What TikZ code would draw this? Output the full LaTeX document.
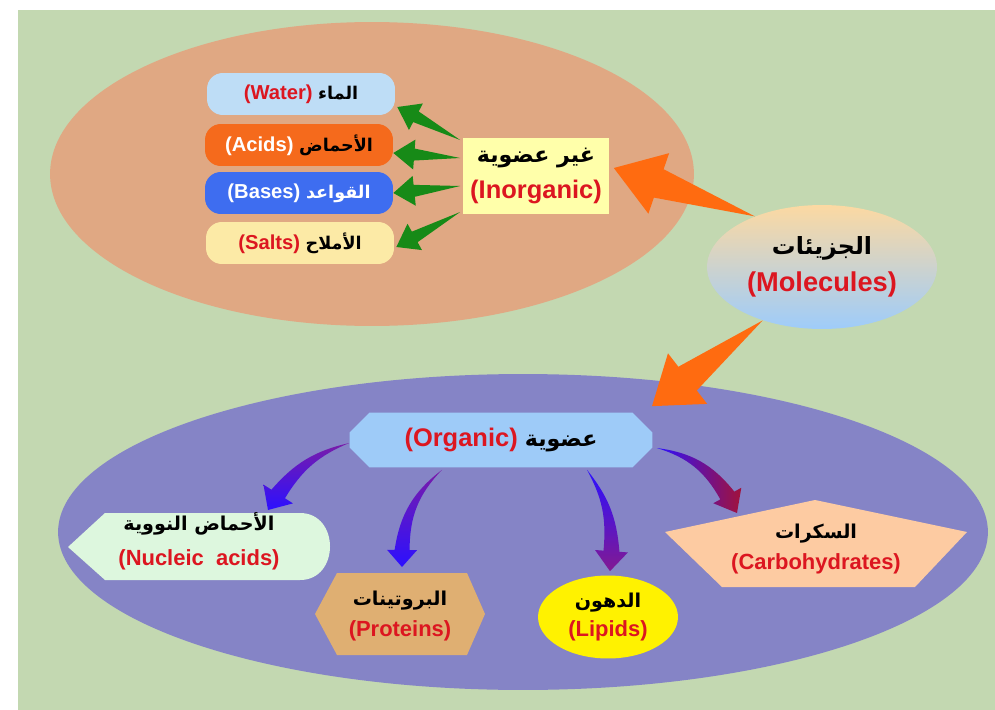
\documentclass[tikz,border=0pt]{standalone}
\usepackage{fontspec}
\setmainfont{Liberation Sans}
\newfontfamily\arabicfont[Script=Arabic,Scale=0.87]{DejaVu Sans}
\TeXXeTstate=1
\usetikzlibrary{calc,shapes.geometric,shapes.misc,positioning}

\definecolor{bggreen}{HTML}{C3D8B1}
\definecolor{inorgback}{HTML}{E0A883}
\definecolor{orgback}{HTML}{8584C6}
\definecolor{molhi}{HTML}{FCD9A2}
\definecolor{mollo}{HTML}{9ECCFA}
\definecolor{inorgfill}{HTML}{FFFFAA}
\definecolor{waterfill}{HTML}{BEDDF6}
\definecolor{acidfill}{HTML}{F56A1C}
\definecolor{basefill}{HTML}{3E6DF0}
\definecolor{saltfill}{HTML}{FCEAA6}
\definecolor{leafgreen}{HTML}{178A17}
\definecolor{bigorange}{HTML}{FF6B10}
\definecolor{orgfill}{HTML}{9ECBF8}
\definecolor{nucfill}{HTML}{DDF7DE}
\definecolor{protfill}{HTML}{DFAF72}
\definecolor{carbfill}{HTML}{FDCBA2}
\definecolor{labelred}{HTML}{DC1620}
\definecolor{arrowblue}{HTML}{2C10FF}
\definecolor{arrowpurple}{HTML}{7A1CA8}
\definecolor{arrowred}{HTML}{A2123A}

\newcommand{\arab}[1]{{\arabicfont\beginR#1\endR}}
\newcommand{\latn}[1]{{\color{labelred}#1}}

% tapered block arrow: [fill], tail, tip, bend, half shaft, half head, head length
\newcommand{\blockarrow}[7][]{%
  \pgfmathsetmacro\baang{-(#4)}
  \coordinate (ba) at ($(#3)!#7!\baang:(#2)$);
  \coordinate (bs1) at ($(ba)!#5!90:(#3)$);
  \coordinate (bs2) at ($(ba)!#5!-90:(#3)$);
  \coordinate (bh1) at ($(ba)!#6!90:(#3)$);
  \coordinate (bh2) at ($(ba)!#6!-90:(#3)$);
  \path[#1] (#2) to[bend left=#4] (bs1) -- (bh1) -- (#3) -- (bh2) -- (bs2)
    to[bend right=#4] (#2) -- cycle;
}

\tikzset{
  unit/.style={rounded corners=9pt, minimum width=3.76cm, minimum height=0.84cm,
    inner sep=0, font=\bfseries\fontsize{11.5}{14}\selectfont},
  bigtxt/.style={align=center, inner sep=0, font=\bfseries\fontsize{14.5}{20}\selectfont},
  smalltxt/.style={align=center, inner sep=0, font=\bfseries\fontsize{12.5}{#1}\selectfont},
  smalltxt/.default=18
}

\begin{document}
\begin{tikzpicture}[x=0.02cm, y=-0.02cm]
\useasboundingbox (0,0) rectangle (995,710);
% backdrop and the two groups
\fill[bggreen] (18,10) rectangle (995,710);
\fill[inorgback] (372,174) ellipse [x radius=6.44cm, y radius=3.04cm];
\fill[orgback] (523,532) ellipse [x radius=9.3cm, y radius=3.16cm];

% shapes of the organic classes
\fill[nucfill] (68,547) -- (105,513) -- (300,513) .. controls (340,513) and (340,580) .. (300,580) -- (105,580) -- cycle;
\fill[protfill] (315,614) -- (337,573) -- (467,573) -- (485,614) -- (467,655) -- (337,655) -- cycle;
\fill[carbfill] (815,500) -- (967,532) -- (915,587) -- (722,587) -- (665,532) -- cycle;

\node[ellipse, top color=molhi, bottom color=mollo, minimum width=4.6cm, minimum height=2.48cm,
  inner sep=0, align=center, font=\bfseries\fontsize{15.5}{21}\selectfont] (mol) at (822,267)
  {\arab{الجزيئات}\\\latn{(Molecules)}};

% inorganic side
\node[bigtxt, fill=inorgfill, minimum width=2.94cm, minimum height=1.52cm] (inorg) at (536,176)
  {\arab{غير عضوية}\\\latn{(Inorganic)}};
\node[unit, fill=waterfill] (water) at (301,94) {\latn{(Water)} \arab{الماء}};
\node[unit, fill=acidfill] (acids) at (299,145) {\textcolor{white}{(Acids)} \arab{الأحماض}};
\node[unit, fill=basefill, text=white] (bases) at (299,193) {(Bases) \arab{القواعد}};
\node[unit, fill=saltfill] (salts) at (300,243) {\latn{(Salts)} \arab{الأملاح}};

\blockarrow[fill=leafgreen]{[shift={(-2,-36)}]inorg.west}{[shift={(2,13)}]water.east}{0}{0.12cm}{0.3cm}{0.42cm}
\blockarrow[fill=leafgreen]{[shift={(-2,-18)}]inorg.west}{[shift={(0,8)}]acids.east}{0}{0.12cm}{0.3cm}{0.42cm}
\blockarrow[fill=leafgreen]{[shift={(-2,10)}]inorg.west}{[shift={(0,0)}]bases.east}{0}{0.12cm}{0.3cm}{0.42cm}
\blockarrow[fill=leafgreen]{[shift={(-2,36)}]inorg.west}{[shift={(2,4)}]salts.east}{0}{0.12cm}{0.3cm}{0.42cm}

% organic side
\node[chamfered rectangle, chamfered rectangle xsep=0.2cm, chamfered rectangle ysep=0.2cm,
  fill=orgfill, minimum width=6.06cm, minimum height=1.1cm, inner sep=0,
  font=\bfseries\fontsize{14.5}{18}\selectfont] (org) at (501,440)
  {\latn{(Organic)} \arab{عضوية}};
\node[smalltxt=20] (nuc) at (199,541) {\arab{الأحماض النووية}\\\latn{(Nucleic\ \ acids)}};
\node[smalltxt] (prot) at (400,616) {\arab{البروتينات}\\\latn{(Proteins)}};
\node[ellipse, fill=yellow, minimum width=2.8cm, minimum height=1.66cm, smalltxt=16] (lip) at (608,617)
  {\arab{الدهون}\\\latn{(Lipids)}};
\node[smalltxt] (carb) at (816,549) {\arab{السكرات}\\\latn{(Carbohydrates)}};

\coordinate (nuctip) at (268,510);
\coordinate (prottip) at (402,567);
\coordinate (carbtip) at (737,513);

% molecules split into both groups
\blockarrow[fill=bigorange]{mol.143}{[shift={(4,-8)}]inorg.east}{0}{0.3cm}{0.64cm}{0.95cm}
\blockarrow[fill=bigorange]{mol.222}{[shift={(151,-6)}]org.north}{0}{0.3cm}{0.64cm}{0.9cm}

\blockarrow[top color=arrowpurple, bottom color=arrowblue]{[shift={(0,3)}]org.west}{nuctip}{-18}{0.16cm}{0.35cm}{0.38cm}
\blockarrow[top color=arrowpurple, bottom color=arrowblue]{[shift={(-59,2)}]org.south}{prottip}{-22}{0.15cm}{0.3cm}{0.34cm}
\blockarrow[top color=arrowblue, bottom color=arrowpurple!80!arrowred]{[shift={(86,2)}]org.south}{[shift={(2,-4)}]lip.north}{17}{0.16cm}{0.33cm}{0.4cm}
\blockarrow[left color=arrowblue, right color=arrowred]{[shift={(4,8)}]org.east}{carbtip}{22}{0.16cm}{0.32cm}{0.4cm}
\end{tikzpicture}
\end{document}
